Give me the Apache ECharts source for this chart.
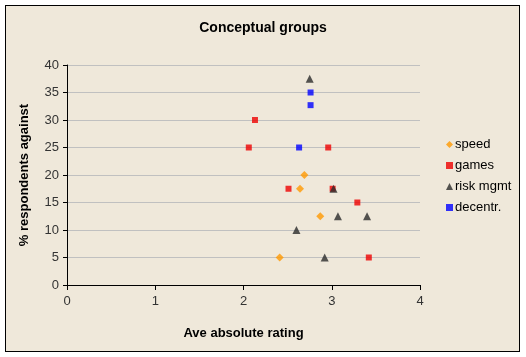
<!DOCTYPE html>
<html><head><meta charset="utf-8">
<script src="https://cdn.jsdelivr.net/npm/echarts@6/dist/echarts.min.js"></script>
<style>
html,body{margin:0;padding:0;background:#fff;}
#frame{position:absolute;left:5px;top:5px;width:513px;height:345px;border:1px solid #000;background:#EFE8DA;}
#main{position:absolute;left:0;top:0;width:526px;height:357px;}
</style></head>
<body>
<div id="frame"></div>
<div id="main"></div>
<script>
var title = 'Conceptual groups';
var xName = 'Ave absolute rating';
var yName = '% respondents against';
var seriesNames = ['speed', 'games', 'risk mgmt', 'decentr.'];
var speed = [[2.69, 20], [2.64, 17.5], [2.87, 12.5], [2.41, 5]];
var games = [[2.13, 30], [2.06, 25], [2.96, 25], [2.51, 17.5], [3.01, 17.5], [3.29, 15], [3.42, 5]];
var riskMgmt = [[2.75, 37.5], [3.02, 17.5], [3.07, 12.5], [3.40, 12.5], [2.60, 10], [2.92, 5]];
var decentr = [[2.76, 35], [2.76, 32.7], [2.63, 25]];

var chart = echarts.init(document.getElementById('main'));
var font = 'Arial, "Liberation Sans", sans-serif';
chart.setOption({
  backgroundColor: 'transparent',
  animation: false,
  title: {text: title, left: 'center', top: 16, textStyle: {fontFamily: font, fontSize: 14, fontWeight: 'bold', color: '#000'}},
  grid: {left: 67, top: 65, width: 353, height: 220},
  legend: {
    orient: 'vertical', left: 446, top: 138, padding: 0, itemGap: 8, itemWidth: 7, itemHeight: 7,
    textStyle: {fontFamily: font, fontSize: 13, color: '#000', padding: [0,0,0,-3]},
    data: [
      {name: seriesNames[0], icon: 'diamond'},
      {name: seriesNames[1], icon: 'rect'},
      {name: seriesNames[2], icon: 'triangle'},
      {name: seriesNames[3], icon: 'rect'}
    ]
  },
  xAxis: {
    type: 'value', min: 0, max: 4, interval: 1,
    name: xName, nameLocation: 'middle', nameGap: 42,
    nameTextStyle: {fontFamily: font, fontSize: 13, fontWeight: 'bold', color: '#000'},
    axisLine: {onZero: false, lineStyle: {color: '#000'}},
    axisTick: {show: true, length: 5, lineStyle: {color: '#000'}},
    axisLabel: {fontFamily: font, fontSize: 13, color: '#333', margin: 10},
    splitLine: {show: false}
  },
  yAxis: {
    type: 'value', min: 0, max: 40, interval: 5,
    name: yName, nameLocation: 'middle', nameGap: 36,
    nameTextStyle: {fontFamily: font, fontSize: 13, fontWeight: 'bold', color: '#000'},
    axisLine: {show: true, onZero: false, lineStyle: {color: '#000'}},
    axisTick: {show: true, length: 4, lineStyle: {color: '#000'}},
    axisLabel: {fontFamily: font, fontSize: 13, color: '#333', margin: 8},
    splitLine: {show: true, lineStyle: {color: '#C0C0C0', width: 1}}
  },
  series: [
    {name: seriesNames[0], type: 'scatter', data: speed, symbol: 'diamond', symbolSize: 8, itemStyle: {color: '#FF9900'}},
    {name: seriesNames[1], type: 'scatter', data: games, symbol: 'rect', symbolSize: 6, itemStyle: {color: '#EE0000'}},
    {name: seriesNames[2], type: 'scatter', data: riskMgmt, symbol: 'triangle', symbolSize: 8, itemStyle: {color: '#2a2a2a'}},
    {name: seriesNames[3], type: 'scatter', data: decentr, symbol: 'rect', symbolSize: 6, itemStyle: {color: '#0000FF'}}
  ]
});
</script>
</body></html>
